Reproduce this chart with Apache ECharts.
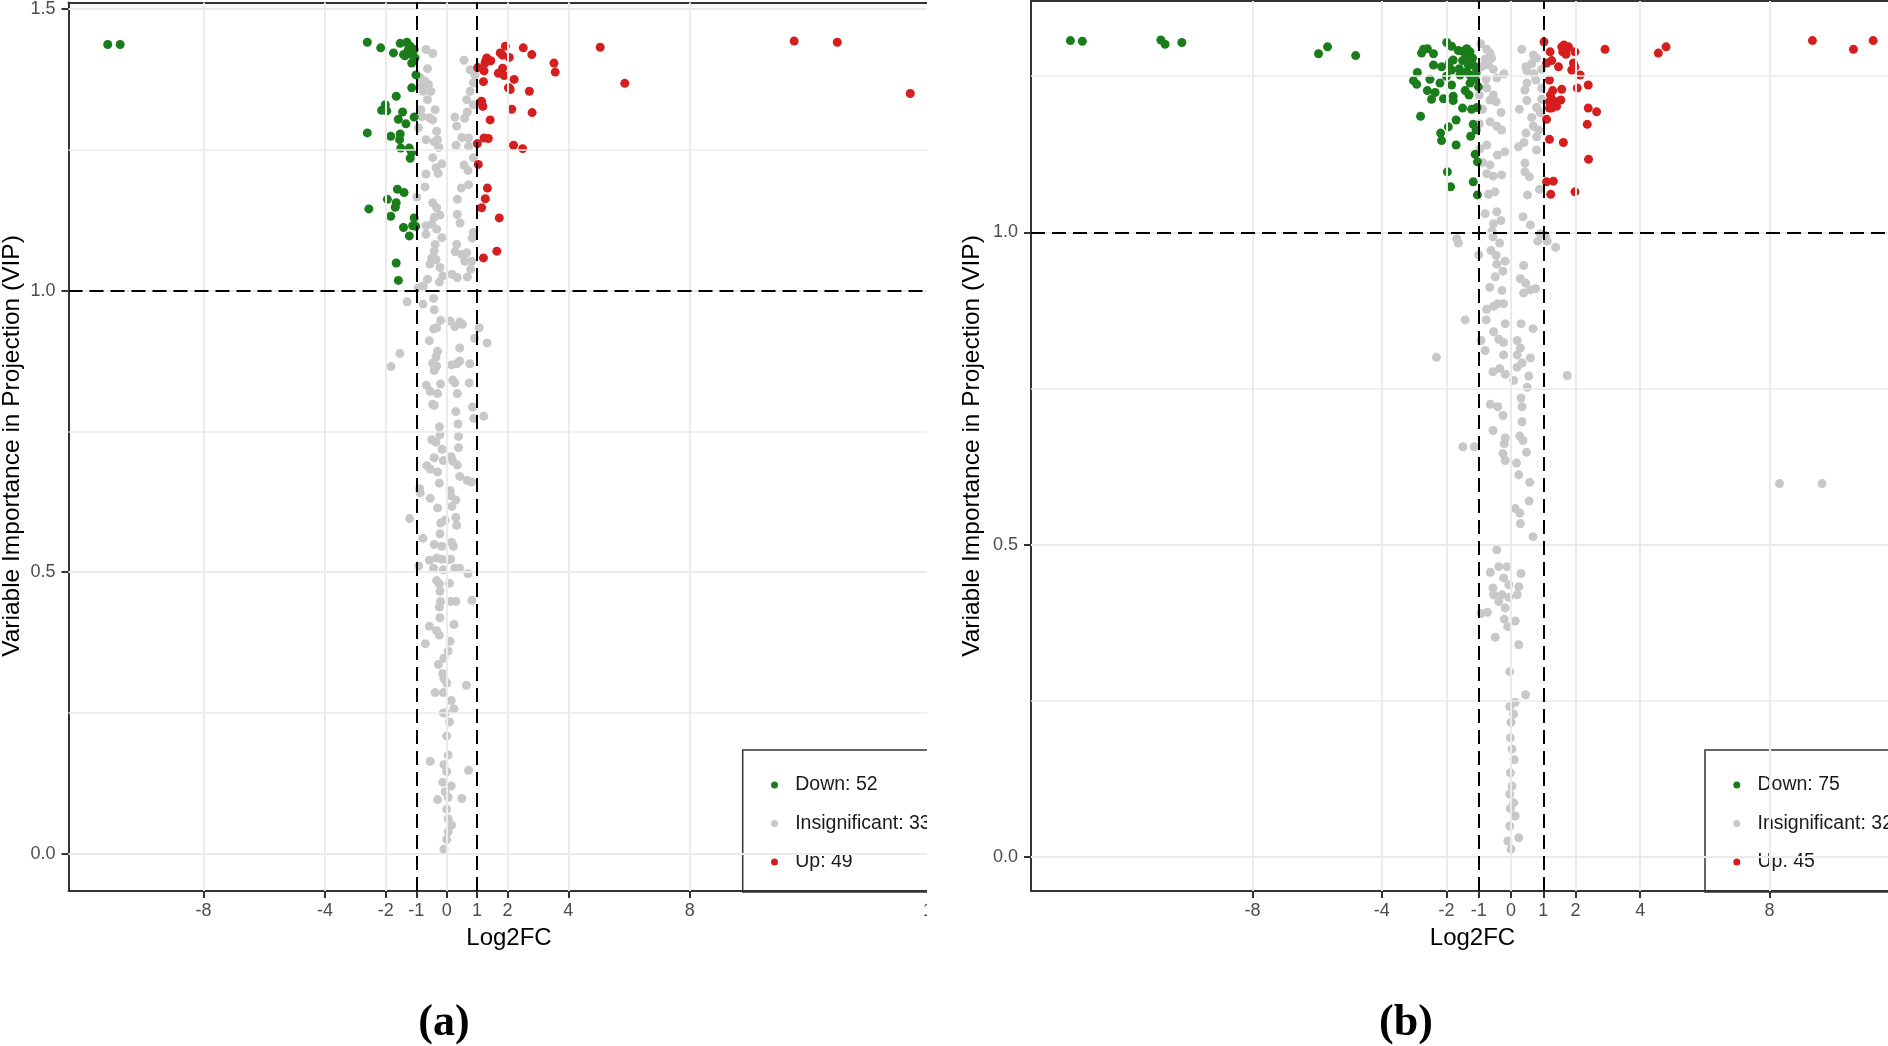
<!DOCTYPE html>
<html>
<head>
<meta charset="utf-8">
<script src="https://cdn.jsdelivr.net/npm/echarts@6/dist/echarts.min.js"></script>
<style>
html,body{margin:0;padding:0;background:#fff;}
#chart{width:1888px;height:1046px;}
</style>
</head>
<body>
<div id="chart"></div>
<script>
// ---------- tick labels ----------
const xTicksA = [-8, -4, -2, -1, 0, 1, 2, 4, 8, 16];
const xTicksB = [-8, -4, -2, -1, 0, 1, 2, 4, 8];
const xGridA = [-8, -4, -2, 0, 2, 4, 8, 16];
const xGridB = [-8, -4, -2, 0, 2, 4, 8];
const yTicksA = [0, 0.5, 1.0, 1.5];
const yTicksB = [0, 0.5, 1.0];
const yMinorA = [0.25, 0.75, 1.25];
const yMinorB = [0.25, 0.75, 1.25];
const fcCut = [-1, 1];
const vipCut = [1];

// ---------- legend labels ----------
const legendA = ['Down: 52', 'Insignificant: 33', 'Up: 49'];
const legendB = ['Down: 75', 'Insignificant: 32', 'Up: 45'];
const panelLabels = ['(a)', '(b)'];

// ---------- panel (a) data: [Log2FC, VIP] ----------
const aDown = [[-11.15,1.437],[-10.74,1.437],
[-2.61,1.441],[-2.17,1.431],[-1.75,1.422],[-1.53,1.439],[-1.31,1.441],[-1.20,1.434],[-1.37,1.417],[-1.15,1.419],[-1.07,1.428],[-1.04,1.413],[-1.15,1.404],[-1.01,1.383],[-1.15,1.360],[-1.66,1.345],[-2.02,1.330],[-2.14,1.320],[-1.97,1.319],[-1.45,1.317],[-1.59,1.304],[-1.34,1.296],[-1.07,1.308],[-2.61,1.280],[-1.84,1.274],[-1.53,1.278],[-1.55,1.268],[-1.51,1.253],[-1.23,1.253],[-1.15,1.245],[-1.20,1.235],[-1.62,1.180],[-1.40,1.174],[-1.95,1.162],[-1.66,1.156],[-1.69,1.148],[-2.56,1.145],[-1.84,1.132],[-1.07,1.129],[-1.42,1.112],[-1.12,1.115],[-1.02,1.114],[-1.23,1.097],[-1.66,1.049],[-1.59,1.018],[-1.26,1.428],[-1.12,1.424],[-1.42,1.419]];

const aUp = [[1.93,1.434],[2.52,1.431],[2.80,1.419],[1.76,1.422],[1.84,1.418],[2.06,1.414],[1.32,1.413],[1.45,1.408],[1.26,1.404],[1.02,1.396],[1.23,1.390],[1.70,1.386],[1.84,1.395],[1.89,1.382],[3.53,1.404],[3.57,1.388],[2.22,1.375],[1.21,1.371],[2.06,1.360],[2.09,1.357],[2.72,1.354],[1.12,1.335],[1.19,1.327],[2.14,1.322],[2.81,1.316],[1.43,1.303],[1.23,1.271],[1.37,1.270],[1.01,1.261],[2.20,1.258],[2.50,1.252],[1.04,1.224],[1.34,1.182],[1.27,1.163],[1.15,1.147],[1.73,1.129],[1.65,1.070],[1.21,1.058],[1.29,1.408],[2.03,1.360],[1.15,1.336],
[5.05,1.432],[5.86,1.368],[11.43,1.443],[12.85,1.441],[15.25,1.350]];

const aInsig = [[-0.68,1.428],[-0.46,1.421],[-0.63,1.394],[0.57,1.409],[0.77,1.392],[0.88,1.369],[0.93,1.383],[-0.87,1.378],[-0.71,1.372],[-0.82,1.363],[-0.60,1.366],[-0.77,1.354],[-0.52,1.354],[-0.63,1.339],[0.77,1.354],[0.66,1.339],[0.88,1.330],[-0.85,1.321],[-0.38,1.321],[-0.57,1.307],[-0.46,1.303],[-0.82,1.309],[0.68,1.317],[0.27,1.308],[0.59,1.306],[0.33,1.292],[-0.93,1.289],[-0.33,1.283],[-0.68,1.268],[-0.30,1.268],[-0.41,1.264],[-0.26,1.254],[0.50,1.272],[0.72,1.271],[0.31,1.258],[0.72,1.256],[0.88,1.236],[-0.46,1.236],[-0.16,1.225],[-0.35,1.218],[-0.28,1.208],[0.57,1.223],[0.70,1.213],[-0.68,1.207],[-0.71,1.184],[0.48,1.182],[0.72,1.188],[-0.98,1.166],[-0.46,1.156],[0.35,1.162],[-0.33,1.147],[-0.22,1.134],[-0.41,1.130],[-0.49,1.118],[-0.68,1.115],[-0.33,1.109],[-0.16,1.094],[0.35,1.135],[0.44,1.120],[0.88,1.103],[0.84,1.093],[-0.68,1.100],[-0.38,1.082],[-0.41,1.070],[-0.49,1.058],[-0.55,1.047],[-0.35,1.055],[-0.22,1.041],[0.33,1.082],[0.28,1.069],[0.50,1.064],[0.66,1.067],[0.60,1.052],[0.82,1.052],[-0.13,1.026],[-0.24,1.015],[-0.63,1.020],[0.17,1.029],[0.35,1.023],[0.68,1.024],[-0.77,1.008],[-0.93,1.005],[0.79,1.038],
[-1.30,0.980],[-0.78,0.976],[-0.43,0.986],[-0.41,0.966],[-0.20,0.947],[0.11,0.946],[0.43,0.944],[0.52,0.940],[0.27,0.936],[-0.43,0.932],[-0.33,0.934],[1.07,0.934],[0.92,0.915],[1.33,0.907],[-0.57,0.911],[0.43,0.898],[-1.54,0.888],[-1.83,0.865],[-0.30,0.892],[-0.35,0.882],[-0.46,0.871],[-0.33,0.866],[-0.41,0.858],[0.16,0.868],[0.43,0.875],[0.33,0.870],[0.76,0.870],[-0.67,0.832],[-0.20,0.834],[0.20,0.841],[0.27,0.836],[0.74,0.836],[-0.54,0.821],[-0.30,0.817],[0.35,0.817],[-0.46,0.798],[-0.41,0.796],[0.85,0.793],[0.30,0.785],[0.89,0.773],[1.22,0.777],[-0.24,0.758],[0.37,0.763],[-0.22,0.744],[0.39,0.741],[-0.49,0.735],[-0.35,0.731],[-0.15,0.718],[0.15,0.705],[-0.41,0.703],[-0.11,0.698],[0.20,0.697],[0.39,0.721],[-0.65,0.689],[-0.54,0.683],[-0.30,0.678],[0.35,0.690],[0.43,0.670],[0.67,0.663],[0.82,0.660],[-0.24,0.658],[0.11,0.645],[-0.87,0.641],[-0.54,0.631],[0.13,0.636],[0.30,0.628],[-0.89,0.648],[-0.30,0.614],[0.17,0.617],[-1.22,0.595],[-0.20,0.587],[-0.05,0.592],[0.30,0.597],[0.33,0.583],[-0.78,0.560],[-0.22,0.568],[-0.41,0.549],[-0.16,0.546],[0.16,0.553],[0.22,0.546],[-0.33,0.525],[-0.16,0.523],[0.05,0.522],[0.13,0.523],[-0.92,0.511],[-0.57,0.521],[-0.43,0.507],[-0.11,0.504],[0.27,0.507],[0.43,0.507],[0.70,0.497],[-0.33,0.485],[-0.24,0.479],[0.09,0.480],[-0.22,0.466],[-0.20,0.448],[0.13,0.448],[0.30,0.448],[-0.24,0.438],[0.83,0.450],[0.24,0.407],[-0.22,0.419],[-0.57,0.404],[-0.33,0.396],[-0.24,0.388],[-0.70,0.373],[0.11,0.377],[0.05,0.360],[-0.09,0.347],[-0.27,0.336],[-0.13,0.320],[-0.09,0.311],[0.00,0.303],[-0.38,0.286],[-0.11,0.286],[0.65,0.299],[0.15,0.272],[-0.11,0.250],[-0.04,0.250],[0.24,0.257],[0.09,0.234],[0.00,0.209],[-0.54,0.164],[0.05,0.175],[-0.09,0.158],[0.72,0.148],[0.00,0.146],[-0.13,0.127],[0.15,0.120],[-0.05,0.110],[-0.30,0.096],[0.05,0.100],[0.50,0.098],[0.00,0.079],[0.05,0.062],[0.16,0.051],[0.05,0.039],[0.00,0.025],[-0.09,0.008]];

// ---------- panel (b) data: [Log2FC, VIP] ----------
const bDown = [[-13.64,1.307],[-13.27,1.306],[-10.84,1.308],[-10.71,1.301],[-10.19,1.304],[-5.96,1.286],[-5.68,1.297],[-4.81,1.283],
[-1.99,1.304],[-1.84,1.298],[-2.71,1.293],[-2.59,1.294],[-2.77,1.287],[-2.40,1.286],[-1.63,1.291],[-1.37,1.294],[-1.27,1.289],[-1.39,1.281],[-1.19,1.279],[-1.50,1.275],[-1.79,1.276],[-1.91,1.271],[-2.40,1.268],[-2.15,1.265],[-1.84,1.260],[-1.32,1.268],[-1.11,1.265],[-2.90,1.256],[-1.58,1.252],[-1.37,1.257],[-1.27,1.252],[-1.08,1.255],[-2.51,1.245],[-3.02,1.243],[-2.92,1.237],[-2.20,1.239],[-1.84,1.236],[-1.27,1.239],[-2.59,1.227],[-2.35,1.224],[-2.09,1.214],[-2.46,1.213],[-1.79,1.218],[-1.42,1.227],[-1.01,1.233],[-1.79,1.211],[-1.50,1.199],[-1.22,1.197],[-2.80,1.186],[-1.70,1.180],[-1.94,1.169],[-1.17,1.173],[-1.08,1.164],[-2.18,1.159],[-1.25,1.154],[-2.15,1.147],[-1.70,1.140],[-1.11,1.125],[-1.04,1.113],[-1.97,1.097],[-1.17,1.081],[-1.87,1.073],[-1.04,1.060],
[-1.50,1.290],[-1.20,1.270],[-1.60,1.262],[-2.00,1.250],[-1.10,1.245],[-1.30,1.220],[-1.05,1.200]];

const bUp = [[1.02,1.305],[1.21,1.289],[1.57,1.297],[1.64,1.300],[1.78,1.297],[1.60,1.289],[1.70,1.291],[1.98,1.289],[2.91,1.293],[4.56,1.287],[4.80,1.297],[1.26,1.275],[1.10,1.271],[1.47,1.265],[1.93,1.271],[1.98,1.265],[1.88,1.260],[2.14,1.252],[1.19,1.244],[2.39,1.236],[2.05,1.231],[1.29,1.227],[1.57,1.229],[1.19,1.209],[1.31,1.211],[1.54,1.212],[1.41,1.202],[1.19,1.199],[1.26,1.199],[2.39,1.199],[2.65,1.193],[1.10,1.181],[2.36,1.173],[1.19,1.149],[1.62,1.144],[2.40,1.117],[1.10,1.081],[1.31,1.082],[1.98,1.065],[1.23,1.061],
[1.70,1.285],[1.22,1.220],[9.33,1.307],[10.60,1.293],[11.21,1.307]];

const bInsig = [[-0.94,1.302],[-0.75,1.293],[-0.65,1.287],[-0.80,1.277],[-0.60,1.279],[-0.91,1.265],[-0.70,1.268],[-0.55,1.261],[-0.22,1.254],[-0.44,1.247],[-0.77,1.245],[0.33,1.293],[0.69,1.284],[0.46,1.265],[0.64,1.270],[0.79,1.279],[0.49,1.259],[0.71,1.254],[0.95,1.261],[0.77,1.244],[0.49,1.239],[0.43,1.228],[0.95,1.231],[-0.98,1.220],[-0.75,1.231],[-0.55,1.220],[-0.65,1.212],[-0.46,1.209],[-0.88,1.197],[-0.31,1.192],[0.26,1.197],[0.95,1.213],[0.79,1.200],[0.49,1.211],[0.64,1.184],[0.90,1.192],[-0.98,1.174],[-0.65,1.177],[-0.44,1.170],[-0.29,1.164],[0.23,1.137],[0.46,1.159],[0.69,1.170],[0.85,1.164],[0.79,1.153],[0.40,1.144],[-0.75,1.140],[-0.42,1.124],[-0.19,1.129],[-0.96,1.134],[-0.88,1.112],[-0.65,1.108],[0.43,1.111],[0.79,1.132],[-0.75,1.094],[-0.55,1.090],[-0.29,1.092],[0.43,1.097],[0.57,1.089],[0.88,1.069],[-0.70,1.061],[-0.50,1.065],[0.51,1.060],
[-0.80,1.030],[-0.44,1.033],[-0.54,1.014],[-0.31,1.019],[-0.59,1.002],[0.37,1.025],[0.60,1.012],[-0.56,0.993],[-0.35,0.983],[-0.62,0.971],[-0.46,0.963],[-0.18,0.954],[-0.44,0.949],[-0.25,0.938],[-0.49,0.929],[0.29,0.926],[0.45,0.919],[0.39,0.903],[0.60,0.908],[0.76,0.910],[-0.66,0.912],[-0.28,0.907],[0.39,0.947],[-1.00,0.964],[0.83,0.986],[1.12,0.986],[1.38,0.976],[1.07,0.995],[0.91,0.998],[-0.41,0.886],[-0.54,0.882],[-0.23,0.886],[-0.75,0.877],[-0.77,0.860],[-0.18,0.854],[0.31,0.854],[0.68,0.846],[-1.42,0.860],[-0.93,0.827],[-0.54,0.841],[-0.38,0.829],[-0.23,0.824],[-0.80,0.811],[0.19,0.827],[0.29,0.815],[0.19,0.804],[-0.23,0.804],[-0.35,0.782],[-0.56,0.777],[-0.18,0.773],[0.08,0.763],[0.60,0.799],[0.34,0.791],[0.55,0.770],[0.50,0.752],[0.19,0.784],[1.74,0.771],[-0.64,0.725],[-0.41,0.721],[-0.25,0.707],[-0.56,0.683],[0.31,0.735],[0.34,0.721],[0.34,0.697],[-1.49,0.657],[-1.14,0.657],[-0.18,0.671],[-0.21,0.662],[0.27,0.674],[0.37,0.667],[0.48,0.648],[-0.25,0.646],[-0.18,0.635],[0.17,0.631],[0.24,0.612],[0.58,0.600],[0.56,0.570],[0.13,0.558],[0.27,0.551],[0.29,0.534],[0.68,0.513],[-0.44,0.492],[-0.38,0.465],[-0.12,0.465],[-0.64,0.456],[0.31,0.454],[-0.23,0.447],[-0.07,0.436],[0.24,0.433],[-0.56,0.431],[-0.54,0.420],[-0.28,0.420],[-0.07,0.416],[0.19,0.420],[-0.38,0.409],[-0.18,0.399],[-0.93,0.390],[-0.73,0.392],[-0.49,0.352],[-0.21,0.381],[0.13,0.378],[0.24,0.340],[-0.10,0.369],[-0.04,0.297],[0.45,0.260],[-0.04,0.241],[0.13,0.248],[0.08,0.229],[0.00,0.216],[-0.02,0.191],[0.03,0.173],[0.10,0.156],[-0.02,0.135],[0.03,0.114],[-0.04,0.101],[0.08,0.087],[-0.02,0.078],[0.13,0.066],[-0.04,0.050],[0.24,0.031],[-0.10,0.026],[0.00,0.013],
[8.31,0.598],[9.63,0.598],[-2.31,0.800],[-1.68,0.990],[-1.63,0.983]];

// ---------- styling ----------
const FONT = "'Liberation Sans', Arial, Helvetica, sans-serif";
const COL_DOWN = '#1b7c1b';
const COL_INS = '#c8c8c8';
const COL_UP = '#d51e1e';
const GRID_COL = '#ebebeb';
const BORDER = '#333333';
const PT = 9;

const chart = echarts.init(document.getElementById('chart'), null, {renderer: 'canvas'});

function xAxisDef(idx, min, max, ticks) {
  return {
    type: 'value', gridIndex: idx, min: min, max: max, position: 'bottom',
    axisLine: {show: true, onZero: false, lineStyle: {color: BORDER, width: 2}},
    splitLine: {show: false},
    axisTick: {show: true, customValues: ticks, length: 7, lineStyle: {color: BORDER, width: 2}},
    axisLabel: {customValues: ticks, margin: 11, fontSize: 18, color: '#4d4d4d', fontFamily: FONT,
      formatter: v => String(v)}
  };
}
function xTopDef(idx, min, max) {
  return {
    type: 'value', gridIndex: idx, min: min, max: max, position: 'top',
    axisLine: {show: true, onZero: false, lineStyle: {color: BORDER, width: 2}},
    splitLine: {show: false}, axisTick: {show: false}, axisLabel: {show: false}
  };
}
function yAxisDef(idx, min, max, ticks) {
  return {
    type: 'value', gridIndex: idx, min: min, max: max, position: 'left',
    axisLine: {show: true, onZero: false, lineStyle: {color: BORDER, width: 2}},
    splitLine: {show: false},
    axisTick: {show: true, customValues: ticks, length: 7, lineStyle: {color: BORDER, width: 2}},
    axisLabel: {customValues: ticks, margin: 13, fontSize: 18, color: '#4d4d4d', fontFamily: FONT,
      formatter: v => Number(v).toFixed(1)}
  };
}
function gridLines(idx, xs, ys, minor) {
  return {
    type: 'scatter', xAxisIndex: idx, yAxisIndex: idx, data: [], z: 1, silent: true,
    markLine: {
      silent: true, symbol: ['none', 'none'], label: {show: false}, animation: false,
      emphasis: {disabled: true},
      data: xs.map(v => ({xAxis: v, lineStyle: {color: GRID_COL, width: 2, type: 'solid'}}))
        .concat(ys.map(v => ({yAxis: v, lineStyle: {color: GRID_COL, width: 2, type: 'solid'}})))
        .concat(minor.map(v => ({yAxis: v, lineStyle: {color: GRID_COL, width: 1.6, type: 'solid'}})))
    }
  };
}
function cutLines(idx) {
  return {
    type: 'scatter', xAxisIndex: idx, yAxisIndex: idx, data: [], z: 6, silent: true,
    markLine: {
      silent: true, symbol: ['none', 'none'], label: {show: false}, animation: false,
      emphasis: {disabled: true},
      lineStyle: {color: '#000', width: 2, type: [14, 7]},
      data: fcCut.map(v => ({xAxis: v})).concat(vipCut.map(v => ({yAxis: v})))
    }
  };
}
function pts(idx, name, data, color, z) {
  return {
    type: 'scatter', name: name, xAxisIndex: idx, yAxisIndex: idx, data: data,
    symbol: 'circle', symbolSize: PT, z: z, silent: true,
    itemStyle: {color: color, opacity: 1}
  };
}
function legendDef(names, left) {
  return {
    data: names, orient: 'vertical', left: left, top: 750,
    icon: 'circle', itemWidth: 31.4, itemHeight: 7, itemGap: 18.5,
    padding: [25, 10, 20, 28.3],
    borderColor: BORDER, borderWidth: 1.5, backgroundColor: 'transparent',
    selectedMode: false,
    textStyle: {fontSize: 19.5, lineHeight: 20, color: '#1a1a1a', fontFamily: FONT}
  };
}
function label(text, x, y, font, rot) {
  return {
    type: 'text', x: x, y: y, rotation: rot || 0, z: 50, silent: true,
    style: {text: text, font: font, fill: '#000', textAlign: 'center', textVerticalAlign: 'middle',
      align: 'center', verticalAlign: 'middle'}
  };
}

const option = {
  animation: false,
  backgroundColor: '#fff',
  grid: [
    {left: 68.5, top: 1, width: 882.5, height: 890},
    {left: 1031, top: 1, width: 857, height: 890}
  ],
  xAxis: [
    xAxisDef(0, -12.44, 16.59, xTicksA),
    xAxisDef(1, -14.86, 11.67, xTicksB),
    xTopDef(0, -12.44, 16.59),
    xTopDef(1, -14.86, 11.67)
  ],
  yAxis: [yAxisDef(0, -0.0663, 1.5117, yTicksA), yAxisDef(1, -0.0541, 1.3704, yTicksB)],
  legend: [legendDef(legendA, 742.7), legendDef(legendB, 1705)],
  series: [
    gridLines(0, xGridA, yTicksA, yMinorA),
    pts(0, legendA[1], aInsig, COL_INS, 2),
    pts(0, legendA[0], aDown, COL_DOWN, 3),
    pts(0, legendA[2], aUp, COL_UP, 3),
    cutLines(0),
    gridLines(1, xGridB, yTicksB, yMinorB),
    pts(1, legendB[1], bInsig, COL_INS, 2),
    pts(1, legendB[0], bDown, COL_DOWN, 3),
    pts(1, legendB[2], bUp, COL_UP, 3),
    cutLines(1)
  ],
  graphic: [
    {type: 'rect', z: 40, silent: true, shape: {x: 927, y: 0, width: 31, height: 1046}, style: {fill: '#fff'}},
    label('Variable Importance in Projection (VIP)', 12, 446, '24.5px ' + FONT, Math.PI / 2),
    label('Variable Importance in Projection (VIP)', 972, 446, '24.5px ' + FONT, Math.PI / 2),
    label('Log2FC', 509, 938, '24px ' + FONT),
    label('Log2FC', 1472.5, 938, '24px ' + FONT),
    label(panelLabels[0], 444, 1024, 'bold 44px "Liberation Serif", "Times New Roman", serif'),
    label(panelLabels[1], 1406, 1024, 'bold 44px "Liberation Serif", "Times New Roman", serif')
  ]
};
chart.setOption(option);
</script>
</body>
</html>
